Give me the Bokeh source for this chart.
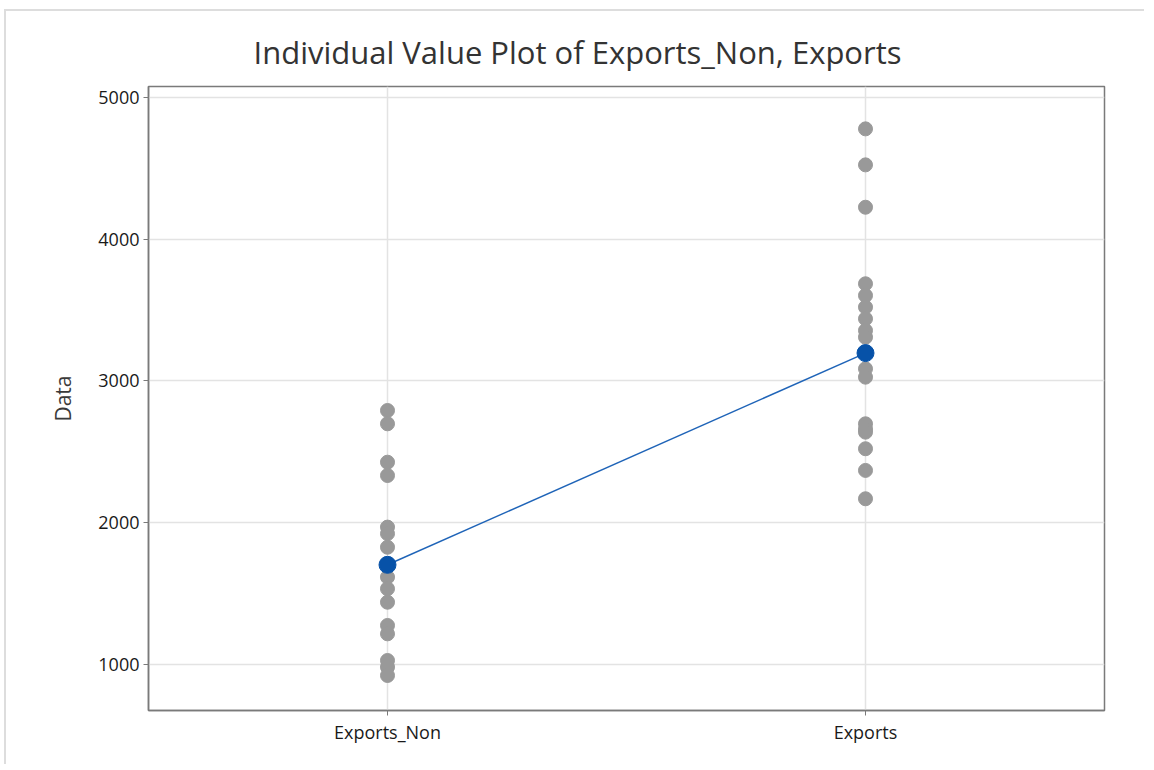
from bokeh.plotting import figure
from bokeh.models import FactorRange, Range1d, FixedTicker, Title
from bokeh.embed import file_html
from bokeh.resources import INLINE

categories = ["Exports_Non", "Exports"]
exports_non = [2792, 2698, 2427, 2333, 1969, 1923, 1827, 1616, 1534, 1439,
               1275, 1216, 1028, 981, 922]
exports = [4779, 4525, 4226, 3686, 3603, 3521, 3439, 3356, 3309, 3086,
           3027, 2698, 2660, 2639, 2522, 2369, 2169]
means = [1703, 3197]
y_ticks = [1000, 2000, 3000, 4000, 5000]

FONT = "Open Sans"

p = figure(width=1140, height=755, output_backend="svg", toolbar_location=None,
           x_range=FactorRange(*categories), y_range=Range1d(675, 5078),
           min_border_left=142, min_border_right=42, min_border_top=75,
           min_border_bottom=56)

p.title = Title(text="Individual Value Plot of Exports_Non, Exports",
                align="left", text_font=FONT, text_font_size="31px",
                text_font_style="normal", text_color="#333333", offset=105,
                standoff=28)

p.outline_line_color = "#7a7a7a"
p.outline_line_width = 1.5
p.background_fill_color = "white"
p.border_fill_color = "white"

p.xgrid.grid_line_color = "#e3e3e3"
p.ygrid.grid_line_color = "#e3e3e3"
p.xgrid.grid_line_width = 1.5
p.ygrid.grid_line_width = 1.5

p.yaxis.ticker = FixedTicker(ticks=y_ticks)
p.yaxis.axis_label = "Data"
p.yaxis.axis_label_text_font = FONT
p.yaxis.axis_label_text_font_size = "21px"
p.yaxis.axis_label_text_font_style = "normal"
p.yaxis.axis_label_text_color = "#3a3a3a"
p.yaxis.axis_label_standoff = 18
for ax in (p.xaxis[0], p.yaxis[0]):
    ax.axis_line_color = "#7a7a7a"
    ax.axis_line_width = 1.5
    ax.major_tick_line_color = "#7a7a7a"
    ax.major_tick_out = 5
    ax.major_tick_in = 0
    ax.minor_tick_line_color = None
    ax.major_label_text_font = FONT
    ax.major_label_text_font_size = "18px"
    ax.major_label_text_color = "#1a1a1a"
p.xaxis.major_label_standoff = 4
p.yaxis.major_label_standoff = 4

# individual values
p.scatter(x=[categories[0]] * len(exports_non), y=exports_non, size=14,
          fill_color="#999999", line_color="#999999")
p.scatter(x=[categories[1]] * len(exports), y=exports, size=14,
          fill_color="#999999", line_color="#999999")

# mean connect line and mean symbols
p.line(x=categories, y=means, line_color="#1f64b8", line_width=1.5)
p.scatter(x=categories, y=means, size=17, fill_color="#0752a8",
          line_color="#0752a8")

p.styles = {"border-left": "2px solid #dddddd", "border-top": "2px solid #dddddd",
            "margin-left": "4px", "margin-top": "9px"}

open("out.html", "w").write(file_html(p, INLINE))
